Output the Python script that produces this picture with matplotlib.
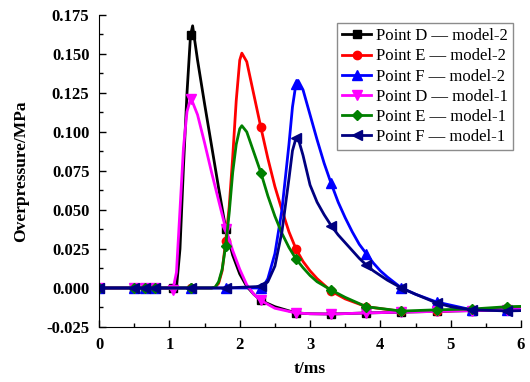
import numpy as np
import matplotlib
matplotlib.use("Agg")
import matplotlib.pyplot as plt
from matplotlib.ticker import MultipleLocator, FormatStrFormatter

plt.rcParams['font.family'] = ['Liberation Serif', 'DejaVu Serif']
plt.rcParams['axes.unicode_minus'] = False

# marker times shared by all curves
marks = [0, 0.5, 0.65, 0.8, 1.05, 1.3, 1.8, 2.3, 2.8, 3.3, 3.8, 4.3, 4.8, 5.3, 5.8]

# Point D (model-2 / model-1)
t_d = [0, 0.5, 0.65, 0.8, 1.0, 1.05, 1.1, 1.15, 1.2, 1.25, 1.3, 1.33, 1.4, 1.5, 1.6, 1.7,
       1.8, 1.9, 2.0, 2.1, 2.2, 2.3, 2.5, 2.8, 3.0, 3.3, 3.8, 4.3, 4.8, 5.3, 5.8, 6.0]
d_model2 = [0, 0, 0, 0, 0, 0, 0.0, 0.025, 0.078, 0.125, 0.162, 0.168, 0.146, 0.118, 0.091, 0.064,
            0.038, 0.021, 0.009, 0.001, -0.004, -0.008, -0.012, -0.016, -0.0165, -0.0167, -0.016,
            -0.0155, -0.015, -0.0145, -0.014, -0.0138]
d_model1 = [0, 0, 0, 0, 0, -0.001, 0.01, 0.05, 0.09, 0.113, 0.121, 0.119, 0.111, 0.093, 0.074, 0.056,
            0.038, 0.024, 0.012, 0.002, -0.004, -0.008, -0.013, -0.016, -0.0165, -0.0167, -0.016,
            -0.0155, -0.015, -0.0145, -0.014, -0.0138]

# Point E
t_e = [0, 0.5, 0.65, 0.8, 1.3, 1.6, 1.65, 1.7, 1.75, 1.8, 1.85, 1.9, 1.95, 2.0, 2.03, 2.1, 2.2,
       2.3, 2.4, 2.5, 2.6, 2.7, 2.8, 2.9, 3.0, 3.1, 3.3, 3.5, 3.8, 4.3, 4.8, 5.3, 5.8, 6.0]
e_model2 = [0, 0, 0, 0, 0, 0, 0.0005, 0.003, 0.011, 0.03, 0.052, 0.084, 0.12, 0.146, 0.1505, 0.145,
            0.124, 0.103, 0.083, 0.065, 0.05, 0.036, 0.025, 0.017, 0.011, 0.006, -0.002, -0.007,
            -0.012, -0.015, -0.015, -0.014, -0.013, -0.0125]
e_model1 = [0, 0, 0, 0, 0, 0, 0.0005, 0.004, 0.012, 0.027, 0.048, 0.074, 0.092, 0.102, 0.104, 0.1,
            0.087, 0.074, 0.059, 0.046, 0.035, 0.026, 0.0186, 0.013, 0.008, 0.004, -0.0013, -0.006,
            -0.012, -0.0148, -0.014, -0.0135, -0.012, -0.0118]

# Point F
t_f = [0, 0.5, 0.65, 0.8, 1.3, 1.8, 2.3, 2.35, 2.4, 2.5, 2.6, 2.7, 2.75, 2.8, 2.83, 2.9, 3.0, 3.1,
       3.2, 3.3, 3.4, 3.5, 3.6, 3.7, 3.8, 3.9, 4.0, 4.1, 4.3, 4.5, 4.8, 5.0, 5.3, 5.8, 6.0]
f_model2 = [0, 0, 0, 0, 0, 0, 0, 0.002, 0.006, 0.022, 0.05, 0.092, 0.116, 0.131, 0.133, 0.127, 0.111,
            0.095, 0.08, 0.067, 0.055, 0.045, 0.036, 0.028, 0.022, 0.016, 0.011, 0.007, 0.0, -0.004,
            -0.009, -0.011, -0.014, -0.014, -0.0135]
f_model1 = [0, 0, 0, 0, 0, 0, 0.001, 0.002, 0.004, 0.014, 0.036, 0.07, 0.088, 0.096, 0.096, 0.085,
            0.066, 0.055, 0.047, 0.040, 0.034, 0.029, 0.024, 0.019, 0.0147, 0.011, 0.008, 0.005, 0.0,
            -0.004, -0.0096, -0.012, -0.014, -0.0147, -0.0145]

series = [
    (t_d, d_model2, 'Point D \u2014 model-2', 'black', 's', 6),
    (t_e, e_model2, 'Point E \u2014 model-2', 'red', 'o', 6),
    (t_f, f_model2, 'Point F \u2014 model-2', 'blue', '^', 6.5),
    (t_d, d_model1, 'Point D \u2014 model-1', 'magenta', 'v', 6.5),
    (t_e, e_model1, 'Point E \u2014 model-1', 'green', 'D', 5),
    (t_f, f_model1, 'Point F \u2014 model-1', 'navy', '<', 6.5),
]

fig = plt.figure(figsize=(5.3, 3.82), dpi=100)
ax = fig.add_axes([0.187, 0.144, 0.796, 0.817])

for t, v, lab, col, mk, ms in series:
    idx = [i for i, tt in enumerate(t) if any(abs(tt - m) < 1e-9 for m in marks)]
    ax.plot(t, v, color=col, lw=2, marker=mk, ms=ms, markevery=idx, label=lab)

ax.set_xlim(0, 6)
ax.set_ylim(-0.025, 0.175)
ax.xaxis.set_major_locator(MultipleLocator(1))
ax.xaxis.set_minor_locator(MultipleLocator(0.5))
ax.yaxis.set_major_locator(MultipleLocator(0.025))
ax.yaxis.set_minor_locator(MultipleLocator(0.0125))
ax.yaxis.set_major_formatter(FormatStrFormatter('%.3f'))

for s in ['top', 'right']:
    ax.spines[s].set_visible(False)
ax.tick_params(which='both', direction='in', top=False, right=False, labelsize=12)
ax.tick_params(which='major', length=5, width=1, pad=7)
ax.tick_params(which='minor', length=3, width=1)
for lbl in ax.get_xticklabels() + ax.get_yticklabels():
    lbl.set_fontweight('bold')

ax.set_xlabel('t/ms', fontsize=12.5, fontweight='bold', labelpad=6)
ax.set_ylabel('Overpressure/MPa', fontsize=12.5, fontweight='bold', labelpad=12)

leg = ax.legend(loc='upper right', fontsize=12, fancybox=False, handlelength=1.7,
                handletextpad=0.3, borderpad=0.3, labelspacing=0.25, borderaxespad=0.5)
leg.get_frame().set_edgecolor('#707070')
leg.get_frame().set_linewidth(1)

fig.savefig('out.png', dpi=100)
